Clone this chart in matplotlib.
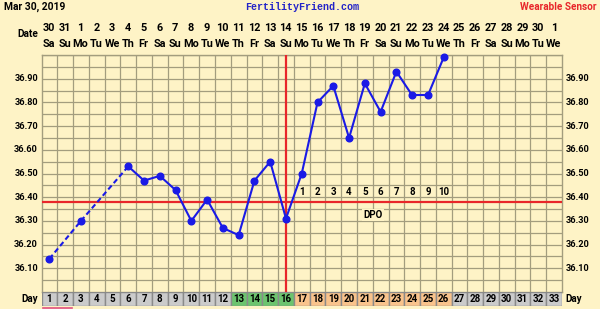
import matplotlib
matplotlib.use("Agg")
import matplotlib.pyplot as plt
from matplotlib.patches import Rectangle
import numpy as np

plt.rcParams["font.family"] = ["Roboto", "DejaVu Sans"]

# chart data
days = list(range(1, 34))
dates = ["30", "31"] + [str(i) for i in range(1, 31)] + ["1"]
weekdays = (["Sa", "Su", "Mo", "Tu", "We", "Th", "Fr"] * 5)[:33]
temp_days = [1, 3, 6, 7, 8, 9, 10, 11, 12, 13, 14, 15, 16, 17, 18, 19, 20, 21, 22, 23, 24, 25, 26]
temps = [36.14, 36.30, 36.53, 36.47, 36.49, 36.43, 36.30, 36.39, 36.27, 36.24, 36.47, 36.55,
         36.31, 36.50, 36.80, 36.87, 36.65, 36.88, 36.76, 36.93, 36.83, 36.83, 36.99]
ytick_vals = [36.10, 36.20, 36.30, 36.40, 36.50, 36.60, 36.70, 36.80, 36.90]
cover_line = 36.38
ovulation_day = 16
fertile_days = [13, 14, 15, 16]
luteal_days = list(range(17, 27))

BG = "#fef3c6"
GRID = "#a39d7e"
BLUE = "#1a1ae6"
RED = "#e8262a"

W, H = 600, 309
fig = plt.figure(figsize=(6, 3.09), dpi=100, facecolor=BG)

def fx(px):
    return px / W

def fy(py):
    return 1 - py / H

left, right, top, bottom = 41.5, 562, 55, 292
ax = fig.add_axes([fx(left), fy(bottom), fx(right) - fx(left), fy(top) - fy(bottom)])
ax.set_facecolor(BG)
ax.set_xlim(0.5, 33.5)
ax.set_ylim(36.0, 37.0)
for s in ax.spines.values():
    s.set_color(GRID)
    s.set_linewidth(1.0)
ax.set_xticks([d + 0.5 for d in days[:-1]])
ax.set_yticks(np.arange(36.05, 37.0, 0.05))
ax.tick_params(length=0, labelleft=False, labelbottom=False)
ax.grid(True, color=GRID, linewidth=0.9)
ax.set_axisbelow(True)

# cover line and ovulation line
ax.axhline(cover_line, color=RED, linewidth=1.6, zorder=3)
ax.axvline(ovulation_day, color=RED, linewidth=1.6, zorder=3)

# temperature line: dashed over gaps
td = np.array(temp_days)
tv = np.array(temps)
for i in range(len(td) - 1):
    ls = "-" if td[i + 1] - td[i] == 1 else (0, (2.5, 1.5))
    ax.plot(td[i:i + 2], tv[i:i + 2], color=BLUE, linewidth=1.5, linestyle=ls, zorder=4)
ax.plot(td, tv, "o", color=BLUE, markersize=4.8, zorder=5, clip_on=False)

# DPO labels
for n, d in enumerate(luteal_days, start=1):
    ax.text(d, 36.42, str(n), ha="center", va="center", fontsize=7, fontweight="bold", zorder=6)
ax.text(21.5, 36.325, "DPO", ha="center", va="center", fontsize=7, fontweight="bold",
        bbox=dict(facecolor=BG, edgecolor="none", pad=1), zorder=6)

# y labels both sides
for v in ytick_vals:
    py = top + (37.0 - v) / 1.0 * (bottom - top)
    fig.text(fx(38), fy(py), "%.2f" % v, ha="right", va="center", fontsize=6.6, fontweight="bold")
    fig.text(fx(566), fy(py), "%.2f" % v, ha="left", va="center", fontsize=6.6, fontweight="bold")

# day row
dax = fig.add_axes([fx(left), fy(306), fx(right) - fx(left), fy(292) - fy(306)])
dax.set_xlim(0.5, 33.5)
dax.set_ylim(0, 1)
dax.axis("off")
for d in days:
    if d in fertile_days:
        c = "#6cc46e"
    elif d in luteal_days:
        c = "#f9c38c"
    else:
        c = "#cbcbcb"
    dax.add_patch(Rectangle((d - 0.5, 0), 1, 1, facecolor=c, edgecolor="#8a8a8a", linewidth=1.0))
    dax.text(d, 0.48, str(d), ha="center", va="center", fontsize=7, fontweight="bold")
fig.text(fx(38), fy(299), "Day", ha="right", va="center", fontsize=7, fontweight="bold")
fig.text(fx(565), fy(299), "Day", ha="left", va="center", fontsize=7, fontweight="bold")
fig.add_artist(plt.Line2D([fx(43), fx(72)], [fy(308), fy(308)], color="#e05080", linewidth=1.2))

# date header
for d, dt, wd in zip(days, dates, weekdays):
    x = fx(49 + (d - 1) * 15.78)
    fig.text(x, fy(28), dt, ha="center", va="center", fontsize=7.8, fontweight="bold")
    fig.text(x, fy(44), wd, ha="center", va="center", fontsize=7.8, fontweight="bold")
fig.text(fx(38), fy(34), "Date", ha="right", va="center", fontsize=7.2, fontweight="bold")

fig.text(fx(4), fy(7), "Mar 30, 2019", ha="left", va="center", fontsize=7.4, fontweight="bold")
fig.text(fx(302), fy(7), "FertilityFriend.com", ha="center", va="center", fontsize=7.2,
         fontweight="bold", family="Liberation Mono", color="#2424c8")
fig.text(fx(597), fy(7), "Wearable Sensor", ha="right", va="center", fontsize=7.2,
         fontweight="bold", color=RED)

fig.savefig("out.png", dpi=100, facecolor=BG)
